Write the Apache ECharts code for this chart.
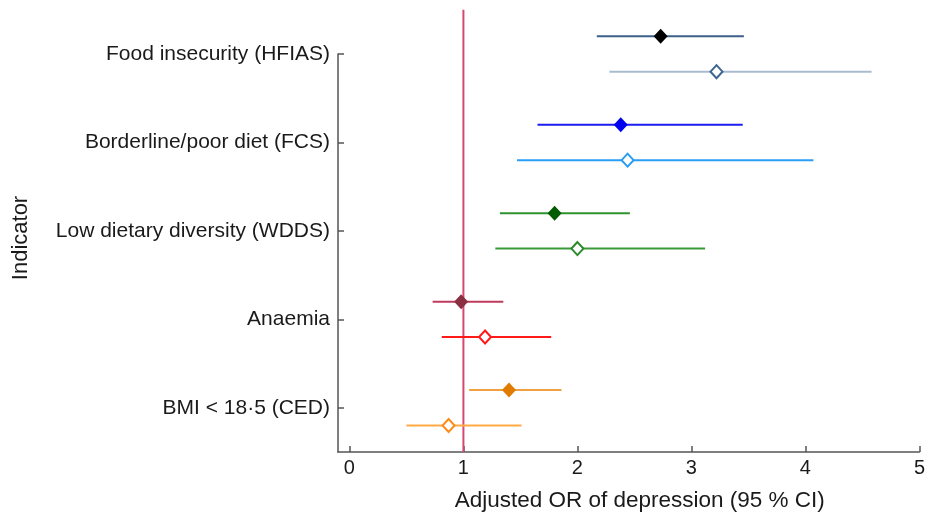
<!DOCTYPE html>
<html>
<head>
<meta charset="utf-8">
<script src="https://cdn.jsdelivr.net/npm/echarts@6/dist/echarts.min.js"></script>
<style>html,body{margin:0;padding:0;background:#fff}#c{width:928px;height:517px}</style>
</head>
<body>
<div id="c"></div>
<script>
// ---- data ----
const categories = ['Food insecurity (HFIAS)', 'Borderline/poor diet (FCS)', 'Low dietary diversity (WDDS)', 'Anaemia', 'BMI < 18·5 (CED)'];
const categoryPos = [5, 4, 3, 2, 1];
const xTicks = [0, 1, 2, 3, 4, 5];
// filled-diamond estimates
const filledOR   = [2.73, 2.38, 1.80, 0.98, 1.40];
const filledLow  = [2.17, 1.65, 1.32, 0.73, 1.05];
const filledHigh = [3.46, 3.45, 2.46, 1.35, 1.86];
// open-diamond estimates
const openOR   = [3.22, 2.44, 2.00, 1.19, 0.87];
const openLow  = [2.28, 1.47, 1.28, 0.81, 0.50];
const openHigh = [4.58, 4.07, 3.12, 1.77, 1.51];
const refValue = 1;

// ---- styles ----
const filledLineColors   = ['#3b5f8a', '#1c1cf0', '#2e932e', '#c03a5e', '#f0a040'];
const filledMarkerColors = ['#000000', '#0000ee', '#005a00', '#8b3040', '#e07b00'];
const openLineColors     = ['#a9bbd0', '#2a9df4', '#3a9a3a', '#ff1a1a', '#ffaa44'];
const openMarkerColors   = ['#3d6590', '#2a9df4', '#2a8a2a', '#ff1a1a', '#ff8c1a'];

function buildData(or, lo, hi) {
  return categories.map((c, i) => [i, lo[i], or[i], hi[i]]);
}

function makeRender(offset, filled, lineColors, markerColors) {
  return function (params, api) {
    const i = api.value(0);
    const y = categoryPos[i] + offset;
    const pLo = api.coord([api.value(1), y]);
    const pEst = api.coord([api.value(2), y]);
    const pHi = api.coord([api.value(3), y]);
    const hw = filled ? 7 : 6;
    const hh = filled ? 7.5 : 6.5;
    return {
      type: 'group',
      children: [
        { type: 'line', shape: { x1: pLo[0], y1: pLo[1], x2: pHi[0], y2: pHi[1] },
          style: { stroke: lineColors[i], lineWidth: 2 } },
        { type: 'polygon', z2: 10,
          shape: { points: [[pEst[0], pEst[1] - hh], [pEst[0] + hw, pEst[1]], [pEst[0], pEst[1] + hh], [pEst[0] - hw, pEst[1]]] },
          style: filled ? { fill: markerColors[i] } : { fill: '#ffffff', stroke: markerColors[i], lineWidth: 2 } }
      ]
    };
  };
}

const font = 'Liberation Sans, Arial, Helvetica, sans-serif';
const chart = echarts.init(document.getElementById('c'), null, { renderer: 'canvas' });
chart.setOption({
  animation: false,
  backgroundColor: '#ffffff',
  grid: { left: 338, right: 6, top: 54, bottom: 64, containLabel: false },
  xAxis: {
    type: 'value', min: -0.1, max: 5,
    axisLine: { show: true, onZero: false, lineStyle: { color: '#555', width: 1.5 } },
    axisTick: { show: true, inside: true, length: 6, customValues: xTicks, lineStyle: { color: '#555', width: 1.5 } },
    axisLabel: { customValues: xTicks, color: '#1a1a1a', fontSize: 20, fontFamily: font, margin: 6 },
    splitLine: { show: false },
    name: 'Adjusted OR of depression (95 % CI)',
    nameLocation: 'middle', nameGap: 37,
    nameTextStyle: { color: '#1a1a1a', fontSize: 22.5, fontFamily: font, padding: [0, 0, 0, 22] }
  },
  yAxis: {
    type: 'value', min: 0.5, max: 5,
    axisLine: { show: true, onZero: false, lineStyle: { color: '#555', width: 1.5 } },
    axisTick: { show: true, inside: true, length: 6, customValues: categoryPos, lineStyle: { color: '#555', width: 1.5 } },
    axisLabel: {
      customValues: categoryPos, color: '#1a1a1a', fontSize: 21, fontFamily: font, margin: 8,
      formatter: v => categories[categoryPos.indexOf(v)] || ''
    },
    splitLine: { show: false },
    name: 'Indicator', nameLocation: 'middle', nameGap: 306,
    nameTextStyle: { color: '#1a1a1a', fontSize: 22, fontFamily: font, padding: [0, 0, 0, 30] }
  },
  series: [
    {
      name: 'Reference', type: 'line', z: 1, clip: false, symbol: 'none',
      data: [[refValue, 0.5], [refValue, 5.5]],
      lineStyle: { color: '#d9466f', width: 2 }
    },
    {
      name: 'Filled', type: 'custom', z: 3, clip: false,
      data: buildData(filledOR, filledLow, filledHigh),
      renderItem: makeRender(0.2, true, filledLineColors, filledMarkerColors)
    },
    {
      name: 'Open', type: 'custom', z: 3, clip: false,
      data: buildData(openOR, openLow, openHigh),
      renderItem: makeRender(-0.2, false, openLineColors, openMarkerColors)
    }
  ]
});
</script>
</body>
</html>
